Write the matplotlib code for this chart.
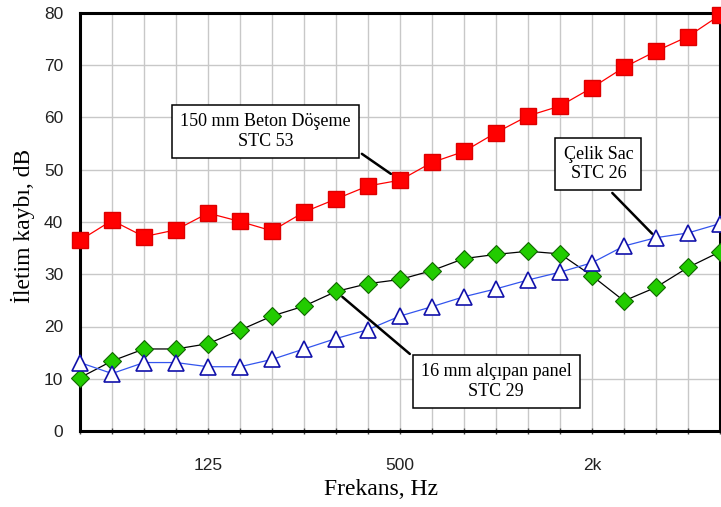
import matplotlib
matplotlib.use("Agg")
import matplotlib.pyplot as plt
import numpy as np

# 1/3 octave band centre frequencies, Hz
freqs = [50, 63, 80, 100, 125, 160, 200, 250, 315, 400, 500,
         630, 800, 1000, 1250, 1600, 2000, 2500, 3150, 4000, 5000]
tick_freqs = [125, 500, 2000]
tick_labels = ["125", "500", "2k"]

beton = [36.5, 40.3, 37.2, 38.5, 41.7, 40.1, 38.3, 41.9, 44.4, 46.9, 48.0,
         51.4, 53.5, 57.1, 60.3, 62.2, 65.7, 69.6, 72.7, 75.5, 79.6]
alcipan = [10.2, 13.4, 15.7, 15.7, 16.7, 19.3, 22.0, 23.9, 26.7, 28.2, 29.0,
           30.7, 33.0, 33.8, 34.4, 33.9, 29.7, 24.9, 27.5, 31.3, 34.3]
celik = [13.1, 11.0, 13.1, 13.1, 12.3, 12.3, 13.7, 15.7, 17.7, 19.4, 22.0,
         23.8, 25.7, 27.2, 28.9, 30.4, 32.2, 35.4, 37.0, 37.9, 39.7]

serif = ["Liberation Serif", "DejaVu Serif"]
narrow = ["Liberation Sans Narrow", "Liberation Sans", "DejaVu Sans"]

x = np.arange(len(freqs))

fig = plt.figure(figsize=(7.21, 5.07), dpi=100)
ax = fig.add_axes([80 / 721, 76 / 507, 640 / 721, 418 / 507])

ax.plot(x, beton, color="red", lw=0.9, marker="s", ms=11.5,
        mfc="red", mec="#dd0000", clip_on=False, zorder=4)
ax.plot(x, alcipan, color="black", lw=0.9, marker="D", ms=9,
        mfc="#22cc00", mec="#116600", mew=0.8, clip_on=False, zorder=3)
ax.plot(x, celik, color="#3355ee", lw=0.9, marker="^", ms=11,
        mfc="white", mec="#1111aa", mew=1.2, clip_on=False, zorder=3)

ax.set_xlim(0, len(freqs) - 1)
ax.set_ylim(0, 80)
ax.set_yticks(range(0, 81, 10))
ax.set_xticks([freqs.index(f) for f in tick_freqs])
ax.set_xticklabels(tick_labels)
ax.set_xticks(x, minor=True)

ax.grid(True, which="both", color="#c8c8c8", lw=1.0)
ax.set_axisbelow(True)
for s in ax.spines.values():
    s.set_linewidth(2.2)

ax.tick_params(axis="x", which="both", direction="inout", length=5,
               width=1, color="#444444", pad=17)
ax.tick_params(axis="y", length=0, pad=12)
for lab in ax.get_xticklabels() + ax.get_yticklabels():
    lab.set_family(narrow)
    lab.set_fontsize(12.5)
    lab.set_color("#222222")

ax.set_xlabel("Frekans, Hz", family=serif, fontsize=17)
ax.xaxis.set_label_coords(301 / 640, -0.116)
ax.set_ylabel("İletim kaybı, dB", family=serif, fontsize=17)
ax.yaxis.set_label_coords(-0.07, 0.49)

box = dict(boxstyle="square,pad=0.45", fc="white", ec="black", lw=1.1)
line = dict(arrowstyle="-", color="black", lw=1.8)

ax.annotate("150 mm Beton Döşeme\nSTC 53", xy=(x[10], beton[10]),
            xytext=(5.8, 57.3), ha="center", va="center", family=serif,
            fontsize=13, bbox=box, zorder=6,
            arrowprops=dict(line, relpos=(1.0, 0.1), shrinkB=8))
ax.annotate("Çelik Sac\nSTC 26", xy=(x[18], celik[18]),
            xytext=(16.2, 51.1), ha="center", va="center", family=serif,
            fontsize=13, bbox=box, zorder=6,
            arrowprops=dict(line, relpos=(0.55, 0.0), shrinkB=4))
ax.annotate("16 mm alçıpan panel\nSTC 29", xy=(x[8], alcipan[8]),
            xytext=(13.0, 9.5), ha="center", va="center", family=serif,
            fontsize=13, bbox=box, zorder=6,
            arrowprops=dict(line, relpos=(0.0, 1.0), shrinkB=6))

fig.savefig("out.png", dpi=100)
